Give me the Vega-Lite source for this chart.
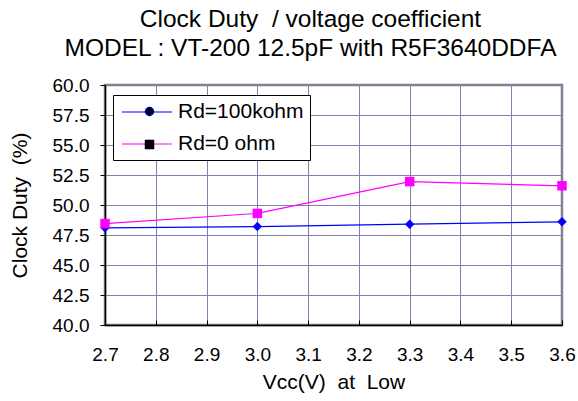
{
  "$schema": "https://vega.github.io/schema/vega-lite/v6.json",
  "width": 457,
  "height": 240,
  "autosize": {"type": "none"},
  "padding": {"left": 105, "top": 85, "right": 16, "bottom": 76},
  "background": "white",
  "title": {
    "text": ["Clock Duty\u00a0 / voltage coefficient", "MODEL : VT-200 12.5pF with R5F3640DDFA"],
    "font": "Liberation Sans",
    "fontSize": 24.5,
    "fontWeight": "normal",
    "color": "black",
    "lineHeight": 29,
    "anchor": "middle",
    "dx": -23,
    "offset": 15
  },
  "data": {
    "values": [
      {"vcc": 2.7, "duty": 48.1, "series": "Rd=100kohm", "curve": "Rd=100kohm"},
      {"vcc": 3.0, "duty": 48.2, "series": "Rd=100kohm", "curve": "Rd=100kohm"},
      {"vcc": 3.3, "duty": 48.4, "series": "Rd=100kohm", "curve": "Rd=100kohm"},
      {"vcc": 3.6, "duty": 48.6, "series": "Rd=100kohm", "curve": "Rd=100kohm"},
      {"vcc": 2.7, "duty": 48.45, "series": "Rd=0 ohm", "curve": "Rd=0 ohm"},
      {"vcc": 3.0, "duty": 49.3, "series": "Rd=0 ohm", "curve": "Rd=0 ohm"},
      {"vcc": 3.3, "duty": 51.95, "series": "Rd=0 ohm", "curve": "Rd=0 ohm"},
      {"vcc": 3.6, "duty": 51.6, "series": "Rd=0 ohm", "curve": "Rd=0 ohm"}
    ]
  },
  "config": {
    "view": {"stroke": "#808080", "strokeWidth": 2.5},
    "axis": {
      "grid": true,
      "labelOverlap": false,
      "labelFont": "Liberation Sans",
      "labelFontSize": 19,
      "labelColor": "black",
      "titleFont": "Liberation Sans",
      "titleFontSize": 21,
      "titleFontWeight": "normal",
      "titleColor": "black",
      "gridColor": "#8080b0",
      "gridOpacity": 1,
      "gridWidth": 1,
      "domainColor": "black",
      "domainWidth": 1.5,
      "tickColor": "black",
      "tickWidth": 1
    }
  },
  "encoding": {
    "x": {
      "field": "vcc", "type": "quantitative",
      "scale": {"domain": [2.7, 3.6], "nice": false, "zero": false},
      "axis": {
        "title": "Vcc(V)\u00a0 at\u00a0 Low",
        "values": [2.7, 2.8, 2.9, 3.0, 3.1, 3.2, 3.3, 3.4, 3.5, 3.6],
        "format": ".1f",
        "tickSize": -5,
        "labelPadding": 25,
        "titlePadding": 7,
        "labelFlush": false
      }
    },
    "y": {
      "field": "duty", "type": "quantitative",
      "scale": {"domain": [40, 60], "nice": false, "zero": false},
      "axis": {
        "title": "Clock Duty\u00a0 (%)",
        "values": [40, 42.5, 45, 47.5, 50, 52.5, 55, 57.5, 60],
        "format": ".1f",
        "tickSize": 5,
        "labelPadding": 11,
        "titlePadding": 22
      }
    }
  },
  "layer": [
    {
      "mark": {"type": "line", "strokeWidth": 1.2},
      "encoding": {
        "stroke": {
          "field": "series", "type": "nominal",
          "scale": {"domain": ["Rd=100kohm", "Rd=0 ohm"], "range": ["#0000ff", "#ff00ff"]},
          "legend": {
            "title": null,
            "orient": "none",
            "legendX": 8,
            "legendY": 10,
            "zindex": 1,
            "padding": 6,
            "strokeColor": "black",
            "fillColor": "white",
            "cornerRadius": 0,
            "labelFont": "Liberation Sans",
            "labelFontSize": 21,
            "labelColor": "black",
            "symbolType": "M-2.5,0L2.5,0",
            "symbolSize": 400,
            "symbolOffset": 17,
            "labelOffset": 20,
            "rowPadding": 11,
            "symbolStrokeWidth": 1.2
          }
        }
      }
    },
    {
      "mark": {"type": "point", "filled": true, "opacity": 1, "size": 90},
      "encoding": {
        "color": {
          "field": "curve", "type": "nominal",
          "sort": ["Rd=100kohm", "Rd=0 ohm"],
          "scale": {"range": ["#0000ff", "#ff00ff"]},
          "legend": {
            "title": null,
            "orient": "none",
            "legendX": 8,
            "legendY": 10,
            "zindex": 2,
            "padding": 6,
            "strokeColor": "transparent",
            "fillColor": "transparent",
            "labelFont": "Liberation Sans",
            "labelFontSize": 21,
            "labelColor": "transparent",
            "symbolSize": 90,
            "symbolOffset": 20,
            "labelOffset": 20,
            "rowPadding": 11,
            "symbolStrokeWidth": 0,
            "symbolOpacity": 1
          }
        },
        "shape": {
          "field": "curve", "type": "nominal",
          "sort": ["Rd=100kohm", "Rd=0 ohm"],
          "scale": {"range": ["diamond", "square"]},
          "legend": {
            "title": null,
            "orient": "none",
            "legendX": 8,
            "legendY": 10,
            "zindex": 2,
            "padding": 6,
            "strokeColor": "transparent",
            "fillColor": "transparent",
            "labelFont": "Liberation Sans",
            "labelFontSize": 21,
            "labelColor": "transparent",
            "symbolSize": 90,
            "symbolOffset": 20,
            "labelOffset": 20,
            "rowPadding": 11,
            "symbolStrokeWidth": 0,
            "symbolOpacity": 1
          }
        }
      }
    }
  ]
}
